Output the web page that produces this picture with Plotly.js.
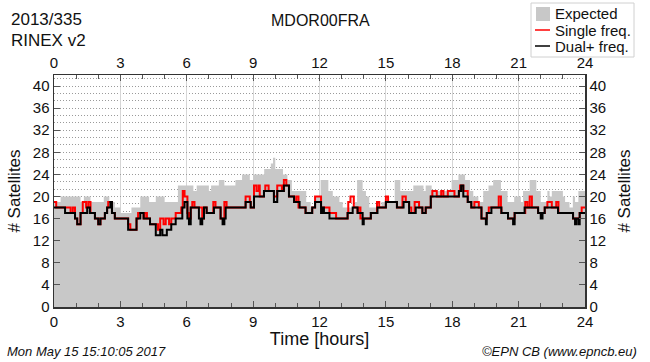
<!DOCTYPE html>
<html>
<head>
<meta charset="utf-8">
<script src="https://cdn.plot.ly/plotly-3.0.1.min.js"></script>
<style>html,body{margin:0;padding:0;background:#fff;}#chart{width:650px;height:362px;}</style>
</head>
<body>
<div id="chart"></div>
<script>
// ---- data (hours, number of satellites; step series) ----
var expectedT = [0,0.3,1.2,1.35,1.65,2.25,2.5,2.75,3.0,3.5,3.9,4.3,4.6,5.0,5.6,6.3,6.45,7.0,7.1,7.45,7.7,8.2,8.5,8.85,9.0,9.5,9.8,9.9,10.0,10.35,10.55,10.75,11.4,11.6,11.75,12.05,12.4,12.6,12.9,13.05,13.6,13.7,13.95,14.1,14.25,14.8,15.4,15.65,16.24,16.7,16.8,17.07,17.97,18.28,18.58,18.8,18.95,19.18,19.4,19.64,19.85,20.2,20.5,20.8,21.1,21.2,21.5,21.8,22.0,22.3,22.4,22.5,23.0,23.1,23.3,23.45,23.55,23.7,24];
var expectedV = [19,20,19,20,19,20,19,18,17,18,20,19,20,19,22,21,22,21,22,23,22,23,24,23,24,25,26,27,25,24,23,21,19,18,20,23,21,20,19,18,19,23,21,20,18,19,23,21,22,21,22,21,23,24,23,21,20,19,21,22,23,21,19,20,19,21,23,21,19,21,20,21,20,19,18,20,19,21,21];

var singleT = [0,0.1,0.5,0.75,0.85,0.95,1.05,1.2,1.3,1.45,1.55,1.65,1.85,2.0,2.1,2.3,2.4,2.45,2.62,2.75,3.35,3.45,3.73,3.8,4.05,4.1,4.2,4.34,4.6,4.7,4.8,4.95,5.05,5.2,5.3,5.5,5.75,5.82,5.9,6.03,6.1,6.18,6.25,6.35,6.55,6.7,6.78,6.9,7.2,7.3,7.53,7.7,7.8,8.66,8.85,8.89,9.04,9.15,9.25,9.3,9.49,9.55,9.7,9.94,10.09,10.3,10.39,10.5,10.62,10.85,10.95,11.05,11.37,11.67,11.8,12.07,12.3,12.45,12.75,13.27,13.3,13.4,13.55,13.72,13.75,13.85,14.32,14.6,14.7,15.0,15.1,15.5,15.75,15.9,16.05,16.15,16.3,16.5,16.65,16.8,17.03,17.1,17.3,17.5,17.6,17.8,18.1,18.3,18.35,18.5,18.7,18.86,19.0,19.2,19.32,19.56,19.65,19.75,20.1,20.2,20.22,20.52,20.82,21.3,21.4,21.5,21.6,21.88,22.18,22.3,22.5,22.7,22.8,23.46,23.76,23.85,24];
var singleV = [19,18,18,17,18,16,15,17,19,18,19,17,16,15,16,17,18,19,17,16,15,14,16,17,16,17,16,15,15,14,16,15,16,15,16,17,18,21,20,17,16,18,19,18,18,16,18,17,19,18,16,19,18,20,19,18,22,21,22,20,21,22,21,20,22,21,23,22,20,19,20,18,17,18,20,18,18,17,16,17,19,20,18,17,18,16,17,19,18,20,19,18,20,19,18,17,19,18,17,18,20,21,20,21,20,21,20,21,22,21,19,18,19,18,16,17,18,18,20,18,17,16,17,19,18,20,18,17,18,19,18,19,17,16,17,18,18];

var dualT = [0,0.5,0.95,1.05,1.2,1.5,1.62,1.85,2.0,2.1,2.3,2.4,2.55,2.62,2.75,3.35,3.73,3.9,4.05,4.34,4.6,4.8,4.9,5.1,5.3,5.5,5.8,5.9,6.03,6.1,6.18,6.55,6.62,6.7,6.78,6.9,7.23,7.53,7.62,7.7,7.76,8.66,8.89,9.04,9.49,9.94,10.09,10.39,10.62,10.85,11.1,11.37,11.67,11.8,12.07,12.15,12.2,12.45,13.27,13.5,13.72,13.95,14.0,14.32,14.62,15.0,15.5,15.8,16.05,16.35,16.65,16.8,17.03,18.3,18.4,18.5,18.7,18.86,19.32,19.52,19.56,19.77,20.22,20.52,20.75,20.82,21.27,21.88,22.0,22.08,22.18,22.78,23.46,23.55,23.6,23.7,23.76,24];
var dualV = [18,17,16,15,17,18,17,16,15,16,17,18,19,17,16,14,16,17,16,15,13,14,13,14,15,16,18,19,16,15,18,16,15,16,18,17,18,16,15,16,18,19,18,20,21,19,21,22,20,19,18,17,18,19,17,18,17,16,17,18,17,15,16,17,18,19,18,19,17,18,17,18,20,21,22,20,19,18,16,15,17,18,17,16,15,17,18,17,16,17,18,17,16,15,16,15,17,17];

var xTickVals = [0,3,6,9,12,15,18,21,24];
var yTickVals = [0,4,8,12,16,20,24,28,32,36,40];

// ---- pixel helpers for annotations/shapes (plot area 54..585 x 75..307) ----
var L = 54, R = 585, T = 75, B = 307;
function px(x){ return (x - L) / (R - L); }
function py(y){ return (B - y) / (B - T); }

var FONT = "Liberation Sans, Arial, Helvetica, sans-serif";

var traces = [
  {x: expectedT, y: expectedV, type: 'scatter', mode: 'lines', line: {shape: 'hv', width: 0, color: '#c8c8c8'},
   fill: 'tozeroy', fillcolor: '#c8c8c8', name: 'Expected', showlegend: false, hoverinfo: 'skip'},
  {x: singleT, y: singleV, type: 'scatter', mode: 'lines', line: {shape: 'hv', width: 2, color: '#ff0000'},
   name: 'Single freq.', showlegend: false},
  {x: dualT, y: dualV, type: 'scatter', mode: 'lines', line: {shape: 'hv', width: 2, color: '#000000'},
   name: 'Dual+ freq.', showlegend: false},
  {x: [], y: [], xaxis: 'x2', yaxis: 'y2', type: 'scatter', mode: 'lines', showlegend: false}
];

var axisCommon = {
  showline: true, linecolor: '#333', linewidth: 1.5,
  ticks: 'inside', ticklen: 6, tickcolor: '#555', tickwidth: 1,
  tickfont: {family: FONT, size: 15, color: '#111'},
  zeroline: false, fixedrange: true
};

var layout = {
  width: 650, height: 362,
  margin: {l: L, r: 650 - R, t: T, b: 362 - B, pad: 0},
  paper_bgcolor: '#fff', plot_bgcolor: '#fff',
  font: {family: FONT, color: '#111'},
  showlegend: false,
  xaxis: Object.assign({}, axisCommon, {
    range: [0, 24], tickmode: 'array', tickvals: xTickVals,
    showgrid: true, gridcolor: '#d6d6d6', gridwidth: 1,
    minor: {dtick: 1, tick0: 0, ticks: 'inside', ticklen: 4, tickcolor: '#555', showgrid: false},
    title: {text: 'Time [hours]', font: {family: FONT, size: 18, color: '#111'}, standoff: 0}
  }),
  xaxis2: Object.assign({}, axisCommon, {
    range: [0, 24], overlaying: 'x', side: 'top', anchor: 'y', tickmode: 'array', tickvals: xTickVals,
    showgrid: false,
    minor: {dtick: 1, tick0: 0, ticks: 'inside', ticklen: 4, tickcolor: '#555', showgrid: false}
  }),
  yaxis: Object.assign({}, axisCommon, {
    range: [0, 42], tickmode: 'array', tickvals: yTickVals,
    showgrid: true, gridcolor: '#9a9a9a', gridwidth: 1, griddash: '1px,2px',
    minor: {dtick: 4/3, tick0: 0, ticks: '', showgrid: true, gridcolor: '#9a9a9a', gridwidth: 1, griddash: '1px,2px'},
    title: {text: '# Satellites', font: {family: FONT, size: 17, color: '#111'}, standoff: 8}
  }),
  yaxis2: Object.assign({}, axisCommon, {
    range: [0, 42], overlaying: 'y', side: 'right', anchor: 'x', tickmode: 'array', tickvals: yTickVals,
    showgrid: false,
    title: {text: '# Satellites', font: {family: FONT, size: 17, color: '#111'}, standoff: 13}
  }),
  annotations: [
    {text: '2013/335', xref: 'paper', yref: 'paper', x: px(10), y: py(30), xanchor: 'left', yanchor: 'bottom',
     borderpad: 0, showarrow: false, font: {family: FONT, size: 17, color: '#111'}},
    {text: 'RINEX v2', xref: 'paper', yref: 'paper', x: px(10), y: py(30), xanchor: 'left', yanchor: 'top',
     borderpad: 0, showarrow: false, font: {family: FONT, size: 17, color: '#111'}},
    {text: 'MDOR00FRA', xref: 'paper', yref: 'paper', x: px(320), y: py(20), xanchor: 'center', yanchor: 'middle',
     showarrow: false, font: {family: FONT, size: 16, color: '#111'}},
    {text: 'Mon May 15 15:10:05 2017', xref: 'paper', yref: 'paper', x: px(5), y: py(351), xanchor: 'left', yanchor: 'middle',
     showarrow: false, font: {family: FONT, size: 13, color: '#111', style: 'italic'}},
    {text: '©EPN CB (www.epncb.eu)', xref: 'paper', yref: 'paper', x: px(639), y: py(351), xanchor: 'right', yanchor: 'middle',
     showarrow: false, font: {family: FONT, size: 13, color: '#111', style: 'italic'}},
    {text: 'Expected', xref: 'paper', yref: 'paper', x: px(554), y: py(14), xanchor: 'left', yanchor: 'middle',
     borderpad: 0, showarrow: false, font: {family: FONT, size: 15, color: '#111'}},
    {text: 'Single freq.', xref: 'paper', yref: 'paper', x: px(554), y: py(30), xanchor: 'left', yanchor: 'middle',
     borderpad: 0, showarrow: false, font: {family: FONT, size: 15, color: '#111'}},
    {text: 'Dual+ freq.', xref: 'paper', yref: 'paper', x: px(554), y: py(46), xanchor: 'left', yanchor: 'middle',
     borderpad: 0, showarrow: false, font: {family: FONT, size: 15, color: '#111'}}
  ],
  shapes: [
    {type: 'rect', xref: 'paper', yref: 'paper', x0: px(531), x1: px(634), y0: py(3), y1: py(57),
     line: {color: '#d0d0d0', width: 1}, fillcolor: '#ffffff', layer: 'above'},
    {type: 'rect', xref: 'paper', yref: 'paper', x0: px(536), x1: px(550), y0: py(7), y1: py(21),
     line: {width: 0}, fillcolor: '#c8c8c8', layer: 'above'},
    {type: 'line', xref: 'paper', yref: 'paper', x0: px(535), x1: px(550), y0: py(30), y1: py(30),
     line: {color: '#ff0000', width: 1.5}, layer: 'above'},
    {type: 'line', xref: 'paper', yref: 'paper', x0: px(535), x1: px(550), y0: py(46), y1: py(46),
     line: {color: '#000000', width: 1.5}, layer: 'above'}
  ]
};

Plotly.newPlot('chart', traces, layout, {staticPlot: true, displayModeBar: false});
</script>
</body>
</html>
